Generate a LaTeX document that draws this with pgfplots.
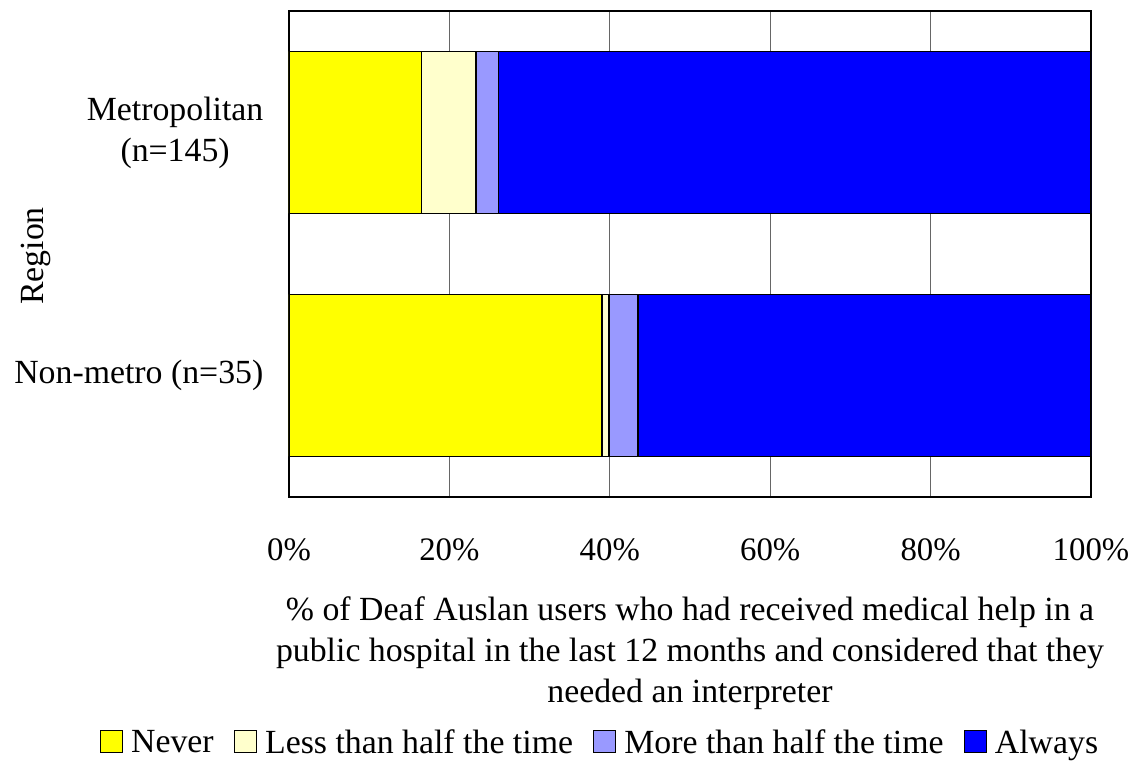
\documentclass[border=0pt]{standalone}
\usepackage{pgfplots}
\pgfplotsset{compat=1.18}
\usepackage{fontspec}
\setmainfont{Liberation Serif}
\definecolor{cNever}{HTML}{FFFF00}
\definecolor{cLess}{HTML}{FFFFCC}
\definecolor{cMore}{HTML}{9999FF}
\definecolor{cAlways}{HTML}{0000FF}
\newcommand{\lblfont}{\fontsize{16.9}{20.5}\selectfont}
\begin{document}
\lblfont
\begin{tikzpicture}
\begin{axis}[
  width=401pt, height=243pt, scale only axis,
  xbar stacked, bar width=81pt,
  xmin=0, xmax=100, ymin=-0.5, ymax=1.5,
  ytick={0,1}, yticklabels={Non-metro (n=35), {Metropolitan\\(n=145)}},
  yticklabel style={align=center, xshift=-7pt, font=\lblfont},
  xtick={0,20,40,60,80,100}, xticklabels={0\%,20\%,40\%,60\%,80\%,100\%},
  xticklabel style={yshift=-15pt, font=\fontsize{16.4}{20}\selectfont},
  major tick length=0pt,
  xmajorgrids, grid style={black!60, line width=0.5pt},
  axis line style={black, line width=0.8pt},
  ylabel={Region},
  ylabel style={at={(axis description cs:-0.3155,0.496)}, anchor=center, font=\lblfont},
  xlabel={\% of Deaf Auslan users who had received medical help in a\\public hospital in the last 12 months and considered that they\\needed an interpreter},
  xlabel style={at={(axis description cs:0.5,0)}, anchor=north, yshift=-44pt, align=center, font=\lblfont},
  legend style={at={(axis description cs:0.389,0)}, anchor=center, yshift=-123.5pt, draw=none, legend columns=4, font=\lblfont, /tikz/every even column/.append style={column sep=8pt}},
  legend image code/.code={\path[draw=none, fill=none] (0pt,0pt) -- (13.5pt,0pt); \draw[#1, draw=black, line width=0.4pt] (0pt,-4.2pt) rectangle (11pt,6.8pt);},
]
\addplot[fill=cNever, draw=black, line width=0.8pt] coordinates {(39.0,0) (16.5,1)};
\addplot[fill=cLess, draw=black, line width=0.8pt] coordinates {(0.9,0) (6.8,1)};
\addplot[fill=cMore, draw=black, line width=0.8pt] coordinates {(3.6,0) (2.8,1)};
\addplot[fill=cAlways, draw=black, line width=0.8pt] coordinates {(56.5,0) (73.9,1)};
\legend{Never, Less than half the time, More than half the time, Always}
\coordinate (bl) at ([shift={(-144.5pt,-133pt)}]rel axis cs:0,0);
\coordinate (tr) at ([shift={(19.5pt,5.5pt)}]rel axis cs:1,1);
\end{axis}
\pgfresetboundingbox
\useasboundingbox (bl) rectangle (tr);
\end{tikzpicture}
\end{document}
